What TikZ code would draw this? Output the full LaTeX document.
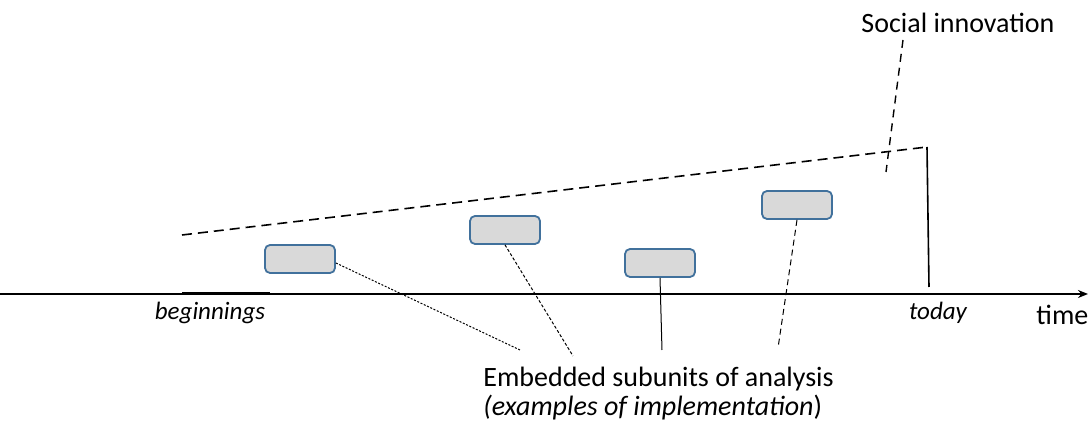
\documentclass[tikz,border=0pt]{standalone}
\usepackage{fontspec}
\setmainfont{Carlito}
\usetikzlibrary{arrows.meta}
\definecolor{unitfill}{RGB}{217, 217, 217}
\definecolor{unitblue}{RGB}{65, 113, 156}

\begin{document}
\begin{tikzpicture}[x=0.5pt, y=-0.5pt, font=\fontsize{14}{14.5}\selectfont,
  subunit/.style={rectangle, rounded corners=2.5pt, draw=unitblue, line width=0.9pt,
    fill=unitfill, minimum width=35pt, minimum height=14pt, inner sep=0pt},
  lead/.style={line width=0.5pt}]
\useasboundingbox (0,0) rectangle (1088,421);

% Time axis
\coordinate (start) at (0,294);
\coordinate (end) at (1088,294);
\draw[line width=1pt, -{Stealth[length=5pt, width=4pt]}] (start) -- (end);
\draw[line width=1.3pt] (182,293.5) -- (270,293.5);
\node[anchor=base, font=\fontsize{12.5}{14}\selectfont\itshape] (begin) at (210,320) {beginnings};
\node[anchor=base, font=\fontsize{12.5}{14}\selectfont\itshape] (today) at (938,320) {today};
\node[anchor=base west, inner sep=0pt] (time) at (1036,325) {time};

% Social innovation wedge
\coordinate (wl) at (182,235);
\coordinate (wr) at (927,147);
\coordinate (wb) at (929,287);
\draw[line width=0.8pt, dash pattern=on 5pt off 3pt] (wl) -- (wr);
\draw[line width=0.8pt] (wr) -- (wb);
\node[anchor=base] (social) at (958,33) {Social innovation};
\coordinate (sl) at (886,172);
\draw[line width=0.7pt, dash pattern=on 4pt off 3pt] (903,40) -- (sl);

% Embedded subunits
\node[subunit] (u1) at (300,259) {};
\node[subunit] (u2) at (505,230) {};
\node[subunit] (u3) at (660,263) {};
\node[subunit] (u4) at (797,205) {};

\node[anchor=north west, inner sep=0pt, align=left] (sub) at (483,367)
  {Embedded subunits of analysis\\ \textit{(examples of implementation})};

% Connectors to the label
\coordinate (e1) at (520,350);
\coordinate (e2) at (573,356);
\coordinate (e3) at (662,350);
\coordinate (e4) at (778,348);
\draw[lead, dash pattern=on 1pt off 0.8pt] (u1.east |- 0,263) -- (e1);
\draw[lead, dash pattern=on 1.5pt off 1pt] (u2.south) -- (e2);
\draw[lead] (u3.south) -- (e3);
\draw[lead, dash pattern=on 3pt off 2pt] (u4.south) -- (e4);
\end{tikzpicture}
\end{document}
